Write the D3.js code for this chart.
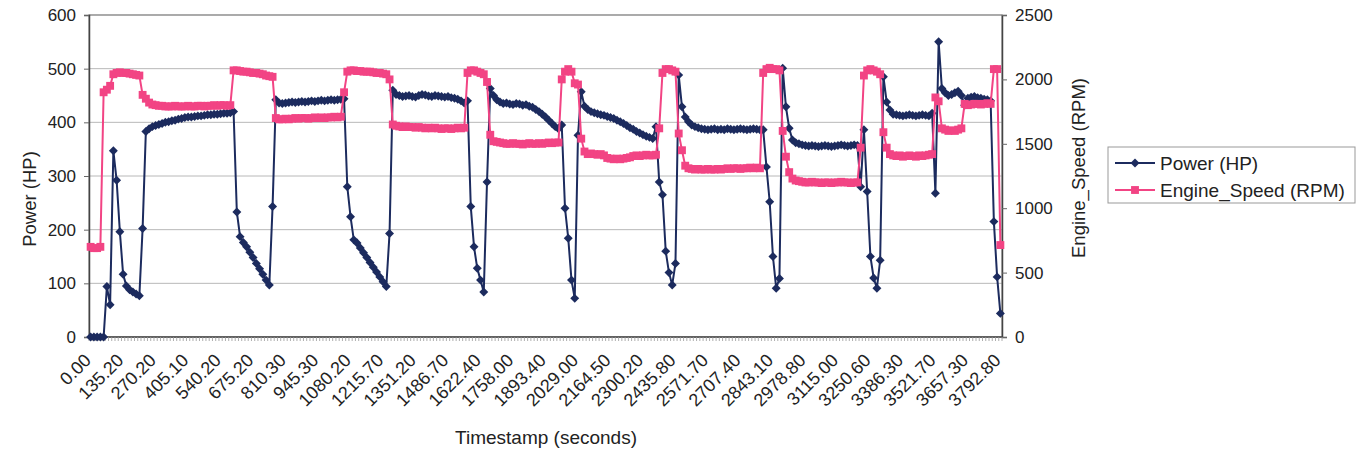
<!DOCTYPE html>
<html>
<head>
<meta charset="utf-8">
<script src="https://cdn.jsdelivr.net/npm/d3@7"></script>
<style>
body { margin: 0; background: #fff; }
text { font-family: Arial, "Liberation Sans", sans-serif; fill: #222; }
</style>
</head>
<body>
<script>
// tick labels, one every 10 samples
var xLabels = ["0.00","135.20","270.20","405.10","540.20","675.20","810.30","945.30","1080.20","1215.70",
  "1351.20","1486.70","1622.40","1758.00","1893.40","2029.00","2164.50","2300.20","2435.80","2571.70",
  "2707.40","2843.10","2978.80","3115.00","3250.60","3386.30","3521.70","3657.30","3792.80"];
var labelStep = 10;

// Power (HP), left axis
var power = [
  0,0,0,0,0,
  94,60,347,292,196,117,95,88,84,80,77,202,
  383,388,392,394,396,398,400,401,403,404,406,407,409,410,410,411,412,412,413,414,414,415,415,416,417,417,418,
  420,233,187,176,168,158,148,137,127,117,106,97,243,442,
  436,435,436,437,438,437,438,439,438,439,440,439,440,441,440,441,442,441,442,443,444,
  280,224,181,175,166,157,148,139,130,121,112,103,94,193,460,
  452,450,448,449,450,448,447,450,452,451,449,448,450,449,448,447,448,446,445,443,440,436,440,
  243,168,128,106,84,289,463,
  450,442,438,435,436,434,433,435,434,432,433,430,428,424,420,415,410,404,398,392,388,395,
  240,184,106,72,376,457,
  430,424,420,418,416,414,413,411,409,407,404,401,398,394,390,387,383,380,377,374,372,370,
  392,289,265,160,120,97,137,488,429,410,401,
  395,392,390,388,387,386,387,388,386,387,386,388,387,386,387,388,387,386,387,388,387,386,
  386,317,252,150,91,109,501,429,389,367,
  362,360,358,357,356,357,356,355,356,357,356,355,356,357,358,357,356,357,358,357,
  280,386,271,150,110,91,143,485,438,423,
  415,414,413,412,413,414,413,412,413,414,413,412,
  417,268,550,
  463,455,450,452,455,458,450,
  432,
  445,447,448,446,445,443,442,
  440,215,112,44
];

// Engine_Speed (RPM), right axis
var engineSpeed = [
  700,690,690,700,
  1900,1920,1950,
  2040,2050,2055,2050,2050,2045,2040,2035,2030,
  1880,1850,1820,1805,
  1800,1795,1795,1790,1790,1790,1795,1790,1790,1790,1795,1790,1790,1795,1795,1790,1795,1795,1800,1795,1800,1800,1795,1800,
  2070,2070,2065,2060,2060,2055,2050,2050,2045,2040,2030,2025,2020,
  1700,
  1690,1690,1695,1690,1695,1700,1695,1700,1700,1695,1700,1705,1700,1705,1700,1705,1705,1710,1705,1710,
  1900,
  2060,2070,2070,2065,2065,2060,2060,2060,2055,2050,2050,2045,2040,
  2000,
  1650,1640,1635,1630,1635,1630,1630,1625,1630,1625,1620,1625,1620,1625,1620,1615,1620,1620,1615,1620,1625,1620,1625,
  2050,2070,2070,2060,2050,2040,1980,
  1570,
  1520,1515,1510,1505,1500,1500,1505,1500,1500,1495,1500,1505,1500,1500,1505,1500,1505,1510,1505,1510,1510,
  2000,2060,2080,2060,1970,1960,
  1540,
  1440,1420,1425,1420,1415,1420,1410,1390,1385,1380,1385,1380,1385,1390,1395,1405,1410,1405,1410,1415,1410,1410,1415,
  1620,
  2050,2080,2080,2070,2060,
  1580,1450,1330,1310,
  1305,1300,1305,1300,1300,1305,1300,1300,1305,1300,1305,1310,1305,1310,1310,1305,1310,1310,1315,1310,1315,1310,
  2050,2080,2090,2080,2080,2070,
  1600,1400,1280,1230,
  1215,1210,1205,1200,1200,1205,1200,1200,1195,1200,1200,1195,1200,1200,1205,1200,1200,1195,1200,1200,
  1470,
  2030,2070,2080,2070,2060,2040,
  1590,1470,1420,
  1410,1405,1410,1400,1405,1410,1405,1400,1410,1405,1410,1415,
  1420,
  1860,1830,
  1620,1610,1600,1605,1600,1610,1620,
  1810,1800,1805,1810,1810,1805,1810,1815,1810,
  2080,2080,714
];

var powerTicks = [0,100,200,300,400,500,600];
var rpmTicks = [0,500,1000,1500,2000,2500];

var blue = "#1c2b5e", pink = "#f24484";

var W = 1357, H = 453;
var margin = {top: 15, right: 355, bottom: 116, left: 89},
    w = W - margin.left - margin.right,
    h = H - margin.top - margin.bottom;

var svg = d3.select("body").append("svg").attr("width", W).attr("height", H);
var g = svg.append("g").attr("transform", "translate(" + margin.left + "," + margin.top + ")");

var xScale = d3.scaleBand().domain(d3.range(power.length)).range([0, w]);
function xc(i) { return xScale(i) + xScale.bandwidth() / 2; }
var yLeft = d3.scaleLinear().domain([0, 600]).range([h, 0]);
var yRight = d3.scaleLinear().domain([0, 2500]).range([h, 0]);

// gridlines
g.selectAll(".grid").data(powerTicks.slice(1)).enter().append("line")
  .attr("x1", 0).attr("x2", w)
  .attr("y1", function(d) { return yLeft(d); }).attr("y2", function(d) { return yLeft(d); })
  .attr("stroke", "#b8b8b8").attr("stroke-width", 1);

// plot border
g.append("rect").attr("width", w).attr("height", h)
  .attr("fill", "none").attr("stroke", "#8a8a8a").attr("stroke-width", 1.2);

// axes
var yAxisL = d3.axisLeft(yLeft).tickValues(powerTicks).tickSize(5).tickPadding(8).tickFormat(d3.format("d"));
var yAxisR = d3.axisRight(yRight).tickValues(rpmTicks).tickSize(5).tickPadding(8).tickFormat(d3.format("d"));
var gl = g.append("g").call(yAxisL);
var gr = g.append("g").attr("transform", "translate(" + w + ",0)").call(yAxisR);
[gl, gr].forEach(function(a) {
  a.select(".domain").attr("stroke", "#444").attr("stroke-width", 1.5);
  a.selectAll(".tick line").attr("stroke", "#666");
  a.selectAll(".tick text").style("font-size", "17px").attr("fill", "#222");
});

// x axis: baseline, a tick between every sample, label every 10th
g.append("line").attr("x1", 0).attr("x2", w).attr("y1", h).attr("y2", h)
  .attr("stroke", "#444").attr("stroke-width", 1.5);
g.selectAll(".xt").data(d3.range(power.length + 1)).enter().append("line")
  .attr("x1", function(i) { return i < power.length ? xScale(i) : w; })
  .attr("x2", function(i) { return i < power.length ? xScale(i) : w; })
  .attr("y1", h).attr("y2", h + 4)
  .attr("stroke", "#999").attr("stroke-width", 0.8);
g.selectAll(".xl").data(xLabels).enter().append("text")
  .attr("transform", function(d, k) {
    return "translate(" + (xc(k * labelStep) - 3) + "," + (h + 20) + ") rotate(-45)";
  })
  .attr("text-anchor", "end").attr("dy", "0.35em")
  .style("font-size", "18px")
  .text(function(d) { return d; });

// series
var linePow = d3.line().x(function(d, i) { return xc(i); }).y(function(d) { return yLeft(d); });
var lineRpm = d3.line().x(function(d, i) { return xc(i); }).y(function(d) { return yRight(d); });

g.append("path").attr("d", linePow(power)).attr("fill", "none").attr("stroke", blue).attr("stroke-width", 2);
var diamond = d3.symbol().type(d3.symbolSquare).size(40);
g.selectAll(".pw").data(power).enter().append("path")
  .attr("d", diamond)
  .attr("transform", function(d, i) { return "translate(" + xc(i) + "," + yLeft(d) + ") rotate(45)"; })
  .attr("fill", blue);

g.append("path").attr("d", lineRpm(engineSpeed)).attr("fill", "none").attr("stroke", pink).attr("stroke-width", 2);
var square = d3.symbol().type(d3.symbolSquare).size(62);
g.selectAll(".rp").data(engineSpeed).enter().append("path")
  .attr("d", square)
  .attr("transform", function(d, i) { return "translate(" + xc(i) + "," + yRight(d) + ")"; })
  .attr("fill", pink);

// axis titles
svg.append("text").attr("transform", "translate(36,199) rotate(-90)")
  .attr("text-anchor", "middle").style("font-size", "18.5px").text("Power (HP)");
svg.append("text").attr("transform", "translate(1085,168) rotate(-90)")
  .attr("text-anchor", "middle").style("font-size", "18.5px").text("Engine_Speed (RPM)");
svg.append("text").attr("x", 546).attr("y", 444)
  .attr("text-anchor", "middle").style("font-size", "19px").text("Timestamp (seconds)");

// legend
var lg = svg.append("g").attr("transform", "translate(1108,147)");
lg.append("rect").attr("width", 247).attr("height", 56)
  .attr("fill", "#fff").attr("stroke", "#999").attr("stroke-width", 1);
var legendItems = [
  {name: "Power (HP)", color: blue, sym: diamond, rot: 45},
  {name: "Engine_Speed (RPM)", color: pink, sym: square, rot: 0}
];
legendItems.forEach(function(it, k) {
  var yy = 16 + k * 27;
  lg.append("line").attr("x1", 7).attr("x2", 47).attr("y1", yy).attr("y2", yy)
    .attr("stroke", it.color).attr("stroke-width", 2);
  lg.append("path").attr("d", it.sym)
    .attr("transform", "translate(27," + yy + ") rotate(" + it.rot + ")").attr("fill", it.color);
  lg.append("text").attr("x", 52).attr("y", yy).attr("dy", "0.35em")
    .style("font-size", "19px").text(it.name);
});
</script>
</body>
</html>
